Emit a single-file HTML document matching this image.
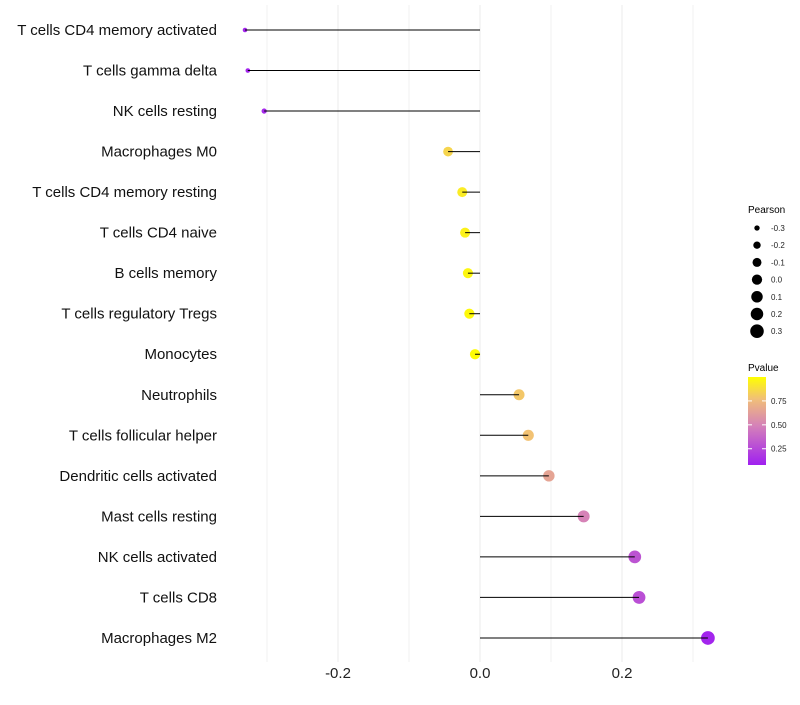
<!DOCTYPE html>
<html><head><meta charset="utf-8"><style>
body{margin:0;background:#fff;font-family:"Liberation Sans",sans-serif}
</style></head><body>
<svg id="chart" width="800" height="700" xmlns="http://www.w3.org/2000/svg" font-family="Liberation Sans, sans-serif">
<defs><linearGradient id="pg" x1="0" y1="1" x2="0" y2="0">
<stop offset="0" stop-color="#a020f0"/><stop offset="0.45" stop-color="#d582b8"/><stop offset="0.75" stop-color="#f1bf78"/><stop offset="1" stop-color="#ffff00"/></linearGradient></defs>
<g id="grid"></g><g id="marks"></g><g id="stems"></g><g id="labels"></g>
<g>
<text x="748" y="213" font-size="10">Pearson</text>
<g id="sizeleg"></g>
<text x="748" y="371" font-size="10">Pvalue</text>
<rect x="748" y="377" width="18" height="88" fill="url(#pg)"/>
<g id="cbticks"></g>
</g>
</svg>
<script>
const categories=["T cells CD4 memory activated","T cells gamma delta","NK cells resting","Macrophages M0","T cells CD4 memory resting","T cells CD4 naive","B cells memory","T cells regulatory  Tregs ","Monocytes","Neutrophils","T cells follicular helper","Dendritic cells activated","Mast cells resting","NK cells activated","T cells CD8","Macrophages M2"];
const pearson=[-0.331,-0.327,-0.304,-0.045,-0.025,-0.021,-0.017,-0.015,-0.007,0.055,0.068,0.097,0.146,0.218,0.224,0.321];
const pvalues=[0.1,0.1,0.12,0.85,0.93,0.95,0.97,0.98,0.99,0.8,0.78,0.65,0.5,0.3,0.28,0.1];
const xTicks=[-0.2,0,0.2];
const xMinor=[-0.3,-0.1,0.1,0.3];
const sizeBreaks=[-0.3,-0.2,-0.1,0.0,0.1,0.2,0.3];
const cbBreaks=[0.25,0.5,0.75];
const NS="http://www.w3.org/2000/svg";
const X=v=>480+v*710;
const Y=i=>30+i*40.53;
const R=v=>{const t=(v+0.35)/0.7;return Math.sqrt(4+t*(49-4));};
function lerp(a,b,t){return a.map((x,i)=>Math.round(x+(b[i]-x)*t));}
const stops=[[0,[160,32,240]],[0.45,[213,130,184]],[0.75,[241,191,120]],[1,[255,255,0]]];
function C(p){const t=Math.max(0,Math.min(1,(p-0.08)/0.92));for(let i=1;i<stops.length;i++){if(t<=stops[i][0]){const a=stops[i-1],b=stops[i];const c=lerp(a[1],b[1],(t-a[0])/(b[0]-a[0]));return `rgb(${c})`;}}return "rgb(255,255,0)";}
function el(tag,attrs,parent){const e=document.createElementNS(NS,tag);for(const k in attrs)e.setAttribute(k,attrs[k]);parent.appendChild(e);return e;}
const grid=document.getElementById('grid'),marks=document.getElementById('marks'),stems=document.getElementById('stems'),labels=document.getElementById('labels');
xMinor.forEach(v=>{const l=el('line',{x1:X(v),x2:X(v),y1:5,y2:662,stroke:'#f2f2f2','stroke-width':1},grid);

});
xTicks.forEach(v=>{const l=el('line',{x1:X(v),x2:X(v),y1:5,y2:662,stroke:'#ebebeb','stroke-width':1},grid);


const t=el('text',{x:X(v),y:678,'font-size':15,'text-anchor':'middle',fill:'#222'},labels);t.textContent=v===0?'0.0':v.toFixed(1);

});
categories.forEach((c,i)=>{const t=el('text',{x:217,y:Y(i)+5,'font-size':15,'text-anchor':'end',fill:'#111','xml:space':'preserve'},labels);t.textContent=c;


const p=el('circle',{cx:X(pearson[i]),cy:Y(i),r:R(pearson[i]),fill:C(pvalues[i])},marks);


const l=el('line',{x1:X(0),x2:X(pearson[i]),y1:Y(i),y2:Y(i),stroke:'#000','stroke-width':1},stems);

});
const sl=document.getElementById('sizeleg');
sizeBreaks.forEach((v,i)=>{const y=228+i*17.2;const c=el('circle',{cx:757,cy:y,r:R(v),fill:'#000'},sl);


const t=el('text',{x:771,y:y+3,'font-size':8,fill:'#222'},sl);t.textContent=v.toFixed(1);

});
const cb=document.getElementById('cbticks');
cbBreaks.forEach(v=>{const y=465-(v-0.08)/0.92*88;const l=el('line',{x1:748,x2:752,y1:y,y2:y,stroke:'#fff'},cb);


const l2=el('line',{x1:762,x2:766,y1:y,y2:y,stroke:'#fff'},cb);


const t=el('text',{x:771,y:y+3,'font-size':8,fill:'#222'},cb);t.textContent=v.toFixed(2);

});
</script>
</body></html>
